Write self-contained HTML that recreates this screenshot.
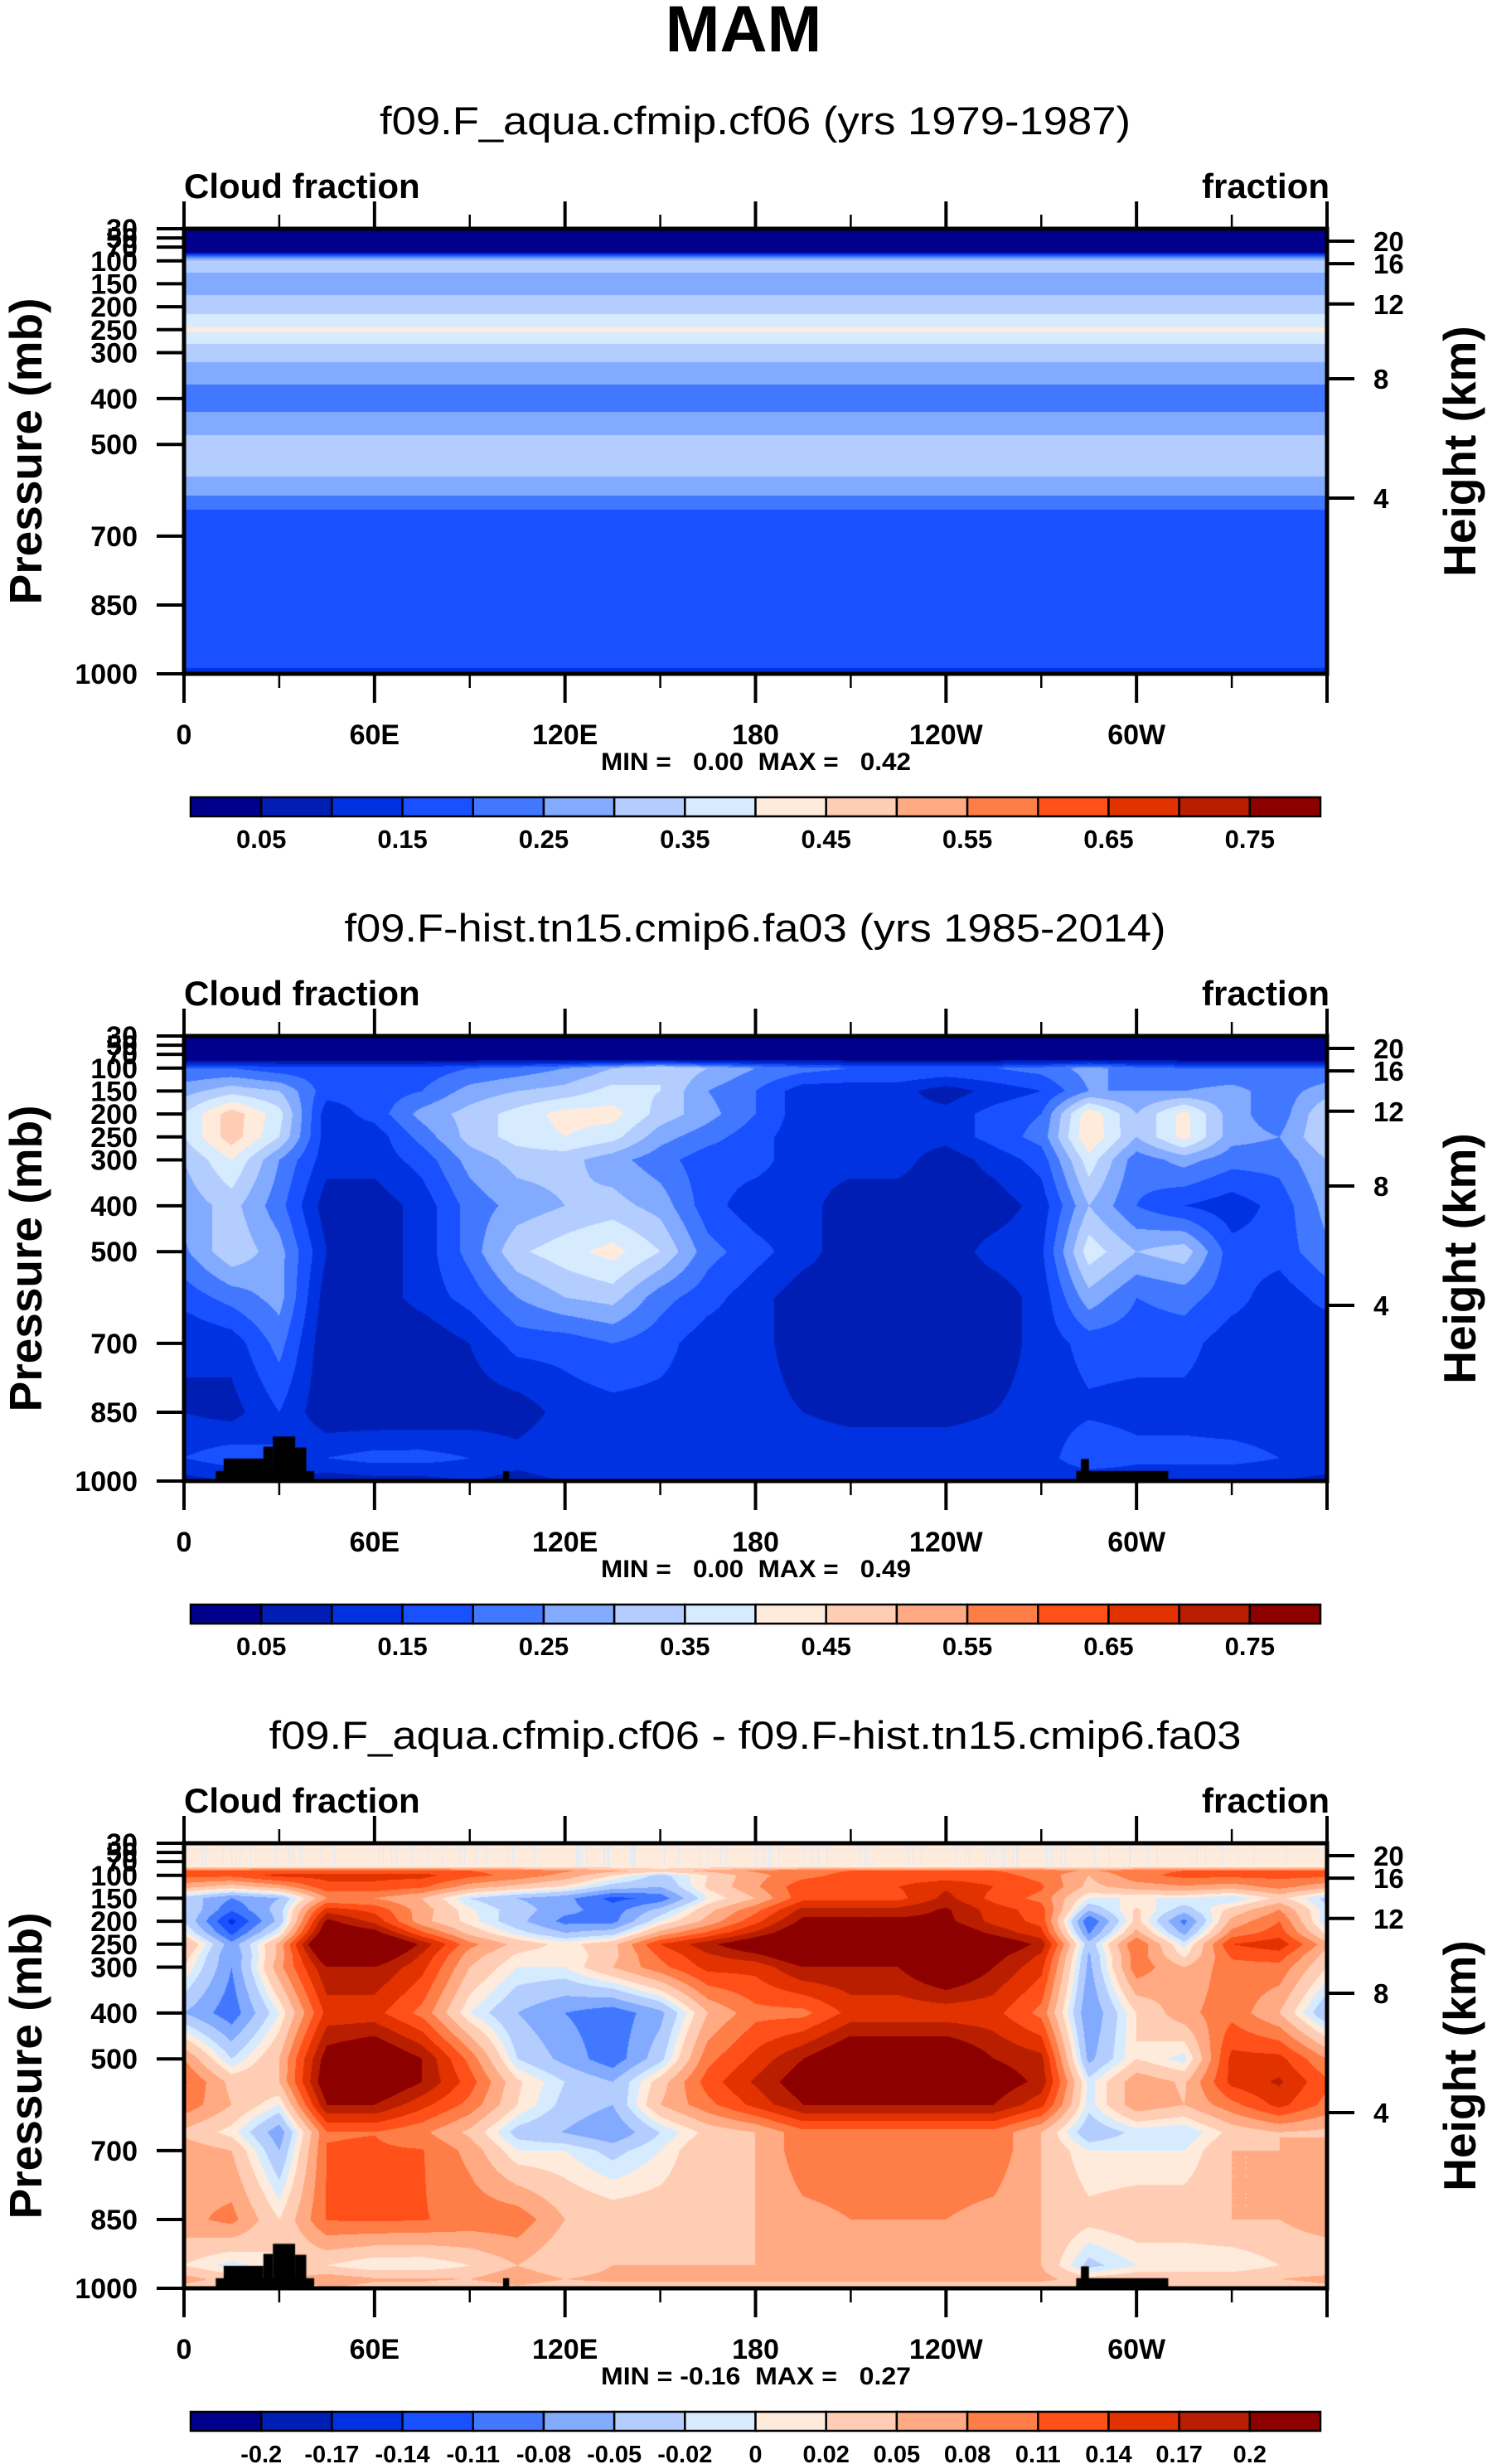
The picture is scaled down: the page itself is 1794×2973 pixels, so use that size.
<!DOCTYPE html>
<html><head><meta charset="utf-8">
<style>
html,body{margin:0;padding:0;background:#fff;}
#root{position:relative;width:1794px;height:2973px;overflow:hidden;background:#fff;}
canvas{position:absolute;}
svg{position:absolute;left:0;top:0;}
text{font-family:"Liberation Sans",sans-serif;fill:#000;}
.pre{white-space:pre;}
</style></head>
<body>
<div id="root">
<canvas id="c0" width="1379" height="537" style="left:222px;top:276px"></canvas>
<canvas id="c1" width="1379" height="537" style="left:222px;top:1250px"></canvas>
<canvas id="c2" width="1379" height="537" style="left:222px;top:2224px"></canvas>
<svg id="ov" width="1794" height="2973">
<text x="897" y="62" text-anchor="middle" font-weight="bold" font-size="79">MAM</text>
</svg>
</div>
<script>
// ---- data ----
const lons = [0,15,30,45,60,75,90,105,120,135,150,165,180,195,210,225,240,255,270,285,300,315,330,345,360];
const levels = [30,80,100,150,200,250,300,400,500,600,700,850,950,1000];
const hist30  = [.02,.02,.02,.02,.02,.02,.02,.02,.02,.02,.02,.02,.02,.02,.02,.02,.02,.02,.02,.02,.02,.02,.02,.02,.02];
const hist80  = [.02,.02,.02,.02,.02,.02,.02,.02,.02,.02,.02,.02,.02,.02,.02,.02,.02,.02,.02,.02,.02,.02,.02,.02,.02];
const hist100 = [.2,.2,.17,.17,.17,.17,.2,.22,.25,.3,.35,.3,.25,.22,.2,.2,.2,.2,.22,.27,.22,.2,.2,.2,.2];
const hist150 = [.28,.33,.3,.17,.17,.2,.27,.3,.32,.37,.35,.25,.2,.12,.12,.12,.07,.12,.15,.25,.25,.25,.27,.22,.28];
const hist200 = [.35,.48,.37,.12,.17,.27,.32,.37,.42,.42,.33,.27,.2,.12,.12,.12,.12,.17,.2,.44,.3,.42,.27,.22,.35];
const hist250 = [.35,.48,.35,.12,.12,.22,.32,.37,.4,.37,.27,.22,.17,.12,.12,.12,.12,.17,.22,.45,.3,.42,.27,.25,.35];
const hist300 = [.3,.4,.25,.12,.12,.17,.27,.32,.32,.27,.22,.17,.17,.12,.12,.12,.07,.12,.17,.38,.22,.27,.22,.22,.3];
const hist400 = [.27,.32,.22,.07,.07,.12,.22,.27,.3,.32,.28,.17,.12,.12,.07,.07,.07,.07,.12,.3,.2,.15,.12,.17,.27];
const hist500 = [.24,.34,.27,.1,.07,.12,.22,.34,.38,.42,.35,.22,.17,.12,.07,.07,.07,.12,.14,.38,.3,.33,.17,.17,.24];
const hist600 = [.17,.22,.27,.07,.07,.12,.17,.25,.3,.32,.22,.17,.12,.07,.07,.07,.07,.07,.12,.28,.2,.22,.17,.12,.17];
const hist700 = [.1,.12,.22,.058,.055,.058,.1,.17,.17,.2,.17,.12,.12,.07,.07,.07,.07,.07,.12,.17,.17,.17,.12,.12,.1];
const hist850 = [.1,.08,.15,.058,.055,.058,.07,.07,.12,.13,.13,.13,.12,.1,.09,.09,.09,.1,.12,.14,.13,.13,.12,.12,.1];
const hist950 = [.15,.18,.15,.15,.17,.17,.15,.12,.15,.12,.12,.12,.12,.12,.12,.12,.12,.12,.12,.2,.17,.17,.17,.15,.15];
const hist1000= [.08,.1,.1,.07,.08,.08,.1,.08,.1,.1,.1,.1,.1,.1,.1,.1,.1,.1,.1,.1,.1,.1,.1,.1,.08];
const aquaLevels = [30,80,90,100,125,150,175,200,225,250,275,300,350,400,450,500,550,600,630,660,700,980,1000];
const aquaValues = [.02,.02,.22,.32,.3,.25,.3,.33,.36,.41,.36,.32,.27,.22,.27,.32,.32,.27,.22,.17,.17,.17,.12];
const cfBounds = [.05,.1,.15,.2,.25,.3,.35,.4,.45,.5,.55,.6,.65,.7,.75];
const cfLabels = ["0.05","0.15","0.25","0.35","0.45","0.55","0.65","0.75"];
const diffBounds = [-.2,-.17,-.14,-.11,-.08,-.05,-.02,0,.02,.05,.08,.11,.14,.17,.2];
const diffLabels = ["-0.2","-0.17","-0.14","-0.11","-0.08","-0.05","-0.02","0","0.02","0.05","0.08","0.11","0.14","0.17","0.2"];
const palette = ["#00008c","#001eb4","#0032e1","#1950ff","#4178ff","#82aaff","#b4cdff","#d7ebff","#ffebdc","#ffcdb4","#ffaa82","#ff7d46","#ff5019","#e13200","#b91e00","#8c0000"];
const landLon0 = [10,12.5,25,28,35,100.5,281,282.5];
const landLon1 = [41,25,28,35,38.5,102.4,310,285];
const landTop  = [978,951,925,903,927,978,978,952];
const pLabels = [30,50,70,100,150,200,250,300,400,500,700,850,1000];
const hLabels = ["20","16","12","8","4"];
const hPress  = [57,106,194,357,617];
const xTickLons = [0,30,60,90,120,150,180,210,240,270,300,330,360];
const xLabels = ["0","60E","120E","180","120W","60W"];
const xLabelLons = [0,60,120,180,240,300];
const panelTitles = ["f09.F_aqua.cfmip.cf06 (yrs 1979-1987)","f09.F-hist.tn15.cmip6.fa03 (yrs 1985-2014)","f09.F_aqua.cfmip.cf06 - f09.F-hist.tn15.cmip6.fa03"];
const titleWidths = [906,991,1173];
const minMax = ["MIN =   0.00  MAX =   0.42","MIN =   0.00  MAX =   0.49","MIN = -0.16  MAX =   0.27"];
const hist = [hist30,hist80,hist100,hist150,hist200,hist250,hist300,hist400,hist500,hist600,hist700,hist850,hist950,hist1000];

// ---- geometry ----
const PL=222, PW=1379, PH=537, TOPS=[276,1250,2224];
const xs = lon => PL + lon/360*PW;
const ysRel = p => (p-30)/970*PH;
function interp1(arr, vals, v){
  if(v<=arr[0]) return vals[0];
  for(let k=0;k<arr.length-1;k++){ if(v<=arr[k+1]){ const f=(v-arr[k])/(arr[k+1]-arr[k]); return vals[k]+f*(vals[k+1]-vals[k]); } }
  return vals[vals.length-1];
}
function histAt(lon,p){
  let i=Math.min(Math.floor(lon/15),lons.length-2); let fi=(lon-lons[i])/15;
  let j=0; while(j<levels.length-2 && p>levels[j+1]) j++;
  let fj=Math.max(0,Math.min(1,(p-levels[j])/(levels[j+1]-levels[j])));
  const a=hist[j][i]*(1-fi)+hist[j][i+1]*fi, b=hist[j+1][i]*(1-fi)+hist[j+1][i+1]*fi;
  return a*(1-fj)+b*fj;
}
function aquaAt(lon,p){ return interp1(aquaLevels,aquaValues,p); }
function classify(v,b){ let k=0; while(k<b.length && v>=b[k]) k++; return k; }
const rgb = palette.map(h=>[parseInt(h.slice(1,3),16),parseInt(h.slice(3,5),16),parseInt(h.slice(5,7),16)]);
function render(id, fn, bounds, land){
  const cv=document.getElementById(id), ctx=cv.getContext('2d');
  const img=ctx.createImageData(PW,PH); const d=img.data;
  for(let y=0;y<PH;y++){ const p=30+(y+0.5)/PH*970;
    for(let x=0;x<PW;x++){ const lon=(x+0.5)/PW*360;
      const c=rgb[classify(fn(lon,p),bounds)]; const o=(y*PW+x)*4;
      d[o]=c[0];d[o+1]=c[1];d[o+2]=c[2];d[o+3]=255; } }
  ctx.putImageData(img,0,0);
  if(land){ ctx.fillStyle='#000';
    for(let k=0;k<landLon0.length;k++){ const x0=landLon0[k]/360*PW, x1=landLon1[k]/360*PW, y0=ysRel(landTop[k]);
      ctx.fillRect(x0,y0,x1-x0,PH-y0); } }
}
render('c0',aquaAt,cfBounds,false);
render('c1',histAt,cfBounds,true);
render('c2',(l,p)=>aquaAt(l,p)-histAt(l,p),diffBounds,true);

// ---- overlays ----
const NS='http://www.w3.org/2000/svg', ov=document.getElementById('ov');
function el(tag,attrs,txt){ const e=document.createElementNS(NS,tag); for(const k in attrs) e.setAttribute(k,attrs[k]); if(txt!==undefined) e.textContent=txt; ov.appendChild(e); return e; }
for(let n=0;n<3;n++){
  const T=TOPS[n], B=T+PH;
  let e;
  e=el('text',{x:911,y:T-130+16,'text-anchor':'middle','font-size':47,textLength:titleWidths[n],lengthAdjust:'spacingAndGlyphs'},panelTitles[n]);
  
  
  e=el('text',{x:222,y:T-37,'font-size':42,'font-weight':'bold'},'Cloud fraction');
  
  
  e=el('text',{x:1604,y:T-37,'font-size':42,'font-weight':'bold','text-anchor':'end'},'fraction');
  
  
  e=el('rect',{x:PL,y:T,width:PW,height:PH,fill:'none',stroke:'#000','stroke-width':5});
  
  
  xTickLons.forEach((lon,k)=>{
    const major=k%2===0, x=xs(lon);
    e=el('line',{x1:x,x2:x,y1:B,y2:B+(major?35:17),stroke:'#000','stroke-width':major?4:2.5});
    
    
    e=el('line',{x1:x,x2:x,y1:T,y2:T-(major?33:17),stroke:'#000','stroke-width':major?4:2.5});
    
    
  });
  xLabels.forEach((s,k)=>{
    e=el('text',{x:xs(xLabelLons[k]),y:B+85,'font-size':34,'font-weight':'bold','text-anchor':'middle'},s);
    
    
  });
  pLabels.forEach(p=>{
    const y=T+ysRel(p);
    e=el('line',{x1:189,x2:PL,y1:y,y2:y,stroke:'#000','stroke-width':4});
    
    
    e=el('text',{x:166,y:y+12,'font-size':34,'font-weight':'bold','text-anchor':'end'},String(p));
    
    
  });
  hLabels.forEach((s,k)=>{
    const y=T+ysRel(hPress[k]);
    e=el('line',{x1:PL+PW,x2:PL+PW+33,y1:y,y2:y,stroke:'#000','stroke-width':4});
    
    
    e=el('text',{x:1657,y:y+12,'font-size':33,'font-weight':'bold'},s);
    
    
  });
  e=el('text',{x:0,y:0,'font-size':55,'font-weight':'bold','text-anchor':'middle',transform:`translate(50,${T+PH/2}) rotate(-90)`},'Pressure (mb)');
  
  
  e=el('text',{x:0,y:0,'font-size':55,'font-weight':'bold','text-anchor':'middle',transform:`translate(1780,${T+PH/2}) rotate(-90)`},'Height (km)');
  
  
  e=el('text',{x:912,y:B+116,'font-size':30,'font-weight':'bold','text-anchor':'middle',textLength:374,lengthAdjust:'spacingAndGlyphs','class':'pre'},minMax[n]);
  
  
  // colorbar
  const cbT=B+149, cbL=230, cbW=1363/16;
  for(let k=0;k<16;k++){
    e=el('rect',{x:cbL+k*cbW,y:cbT,width:cbW,height:23,fill:palette[k],stroke:'#000','stroke-width':2.5});
    
    
  }
  if(n<2){
    cfLabels.forEach((s,k)=>{
      e=el('text',{x:cbL+(2*k+1)*cbW,y:cbT+61,'font-size':31,'font-weight':'bold','text-anchor':'middle'},s);
      
      
    });
  } else {
    diffLabels.forEach((s,k)=>{
      e=el('text',{x:cbL+(k+1)*cbW,y:cbT+61,'font-size':29,'font-weight':'bold','text-anchor':'middle'},s);
      
      
    });
  }
}
</script>
</body></html>
